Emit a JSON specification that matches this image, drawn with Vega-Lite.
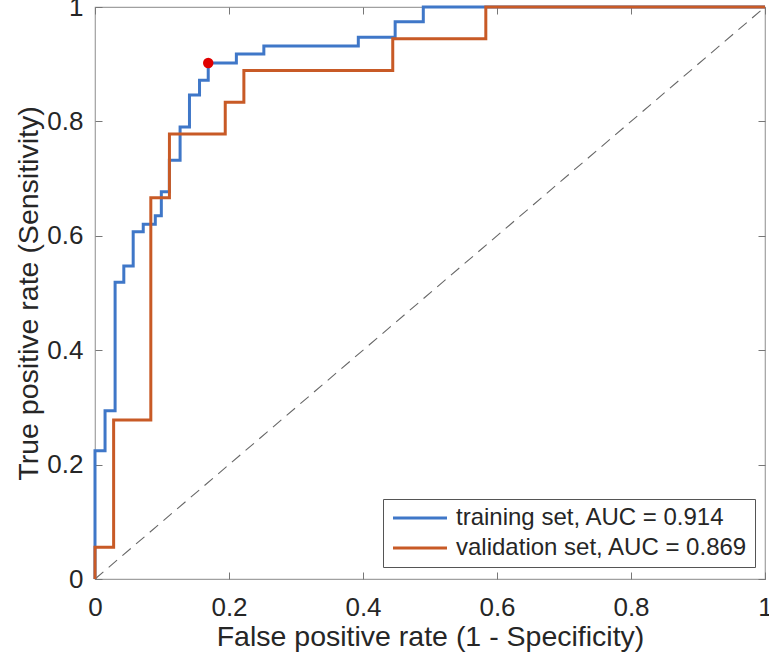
{
  "$schema": "https://vega.github.io/schema/vega-lite/v6.json",
  "width": 670,
  "height": 572,
  "autosize": {"type": "none"},
  "padding": {"left": 95, "top": 7, "right": 4, "bottom": 81},
  "background": "white",
  "config": {
    "font": "Liberation Sans",
    "view": {"stroke": "#a0a0a0", "strokeWidth": 1.2},
    "axis": {
      "domain": false,
      "grid": false,
      "tickColor": "#777777",
      "tickSize": -7,
      "tickWidth": 1,
      "labelFontSize": 26,
      "labelColor": "#262626",
      "titleFontSize": 28.5,
      "titleFontWeight": "normal",
      "titleColor": "#262626",
      "labelFont": "Liberation Sans",
      "titleFont": "Liberation Sans"
    }
  },
  "datasets": {
    "roc": [
      {"series": "training set, AUC = 0.914", "fpr": 0, "tpr": 0},
      {"series": "training set, AUC = 0.914", "fpr": 0.015, "tpr": 0.224},
      {"series": "training set, AUC = 0.914", "fpr": 0.03, "tpr": 0.294},
      {"series": "training set, AUC = 0.914", "fpr": 0.043, "tpr": 0.519},
      {"series": "training set, AUC = 0.914", "fpr": 0.057, "tpr": 0.547},
      {"series": "training set, AUC = 0.914", "fpr": 0.072, "tpr": 0.607},
      {"series": "training set, AUC = 0.914", "fpr": 0.09, "tpr": 0.62},
      {"series": "training set, AUC = 0.914", "fpr": 0.099, "tpr": 0.635},
      {"series": "training set, AUC = 0.914", "fpr": 0.111, "tpr": 0.677},
      {"series": "training set, AUC = 0.914", "fpr": 0.127, "tpr": 0.732},
      {"series": "training set, AUC = 0.914", "fpr": 0.141, "tpr": 0.79},
      {"series": "training set, AUC = 0.914", "fpr": 0.156, "tpr": 0.846},
      {"series": "training set, AUC = 0.914", "fpr": 0.169, "tpr": 0.872},
      {"series": "training set, AUC = 0.914", "fpr": 0.211, "tpr": 0.902},
      {"series": "training set, AUC = 0.914", "fpr": 0.252, "tpr": 0.918},
      {"series": "training set, AUC = 0.914", "fpr": 0.393, "tpr": 0.932},
      {"series": "training set, AUC = 0.914", "fpr": 0.448, "tpr": 0.947},
      {"series": "training set, AUC = 0.914", "fpr": 0.49, "tpr": 0.974},
      {"series": "training set, AUC = 0.914", "fpr": 1, "tpr": 1},
      {"series": "validation set, AUC = 0.869", "fpr": 0, "tpr": 0},
      {"series": "validation set, AUC = 0.869", "fpr": 0.0278, "tpr": 0.0556},
      {"series": "validation set, AUC = 0.869", "fpr": 0.0833, "tpr": 0.2778},
      {"series": "validation set, AUC = 0.869", "fpr": 0.1111, "tpr": 0.6667},
      {"series": "validation set, AUC = 0.869", "fpr": 0.1944, "tpr": 0.7778},
      {"series": "validation set, AUC = 0.869", "fpr": 0.2222, "tpr": 0.8333},
      {"series": "validation set, AUC = 0.869", "fpr": 0.4444, "tpr": 0.8889},
      {"series": "validation set, AUC = 0.869", "fpr": 0.5833, "tpr": 0.9444},
      {"series": "validation set, AUC = 0.869", "fpr": 1, "tpr": 1}
    ],
    "diag": [{"x0": 0, "y0": 0, "x1": 1, "y1": 1}],
    "cut": [{"fpr": 0.169, "tpr": 0.902}]
  },
  "resolve": {"axis": {"x": "independent", "y": "independent"}},
  "layer": [
    {
      "data": {"name": "diag"},
      "mark": {"type": "rule", "color": "#666666", "strokeWidth": 1.1, "strokeDash": [11, 7]},
      "encoding": {
        "x": {"field": "x0", "type": "quantitative", "scale": {"domain": [0, 1], "nice": false},
          "axis": {"values": [0, 0.2, 0.4, 0.6, 0.8, 1], "format": "~g", "labelPadding": 22, "title": "False positive rate (1 - Specificity)", "titlePadding": 2, "labelFlush": false}},
        "y": {"field": "y0", "type": "quantitative", "scale": {"domain": [0, 1], "nice": false},
          "axis": {"values": [0, 0.2, 0.4, 0.6, 0.8, 1], "format": "~g", "labelPadding": 19, "title": "True positive rate (Sensitivity)", "titlePadding": 3, "labelFlush": false}},
        "x2": {"field": "x1"},
        "y2": {"field": "y1"}
      }
    },
    {
      "data": {"name": "roc"},
      "mark": {"type": "line", "interpolate": "step-before", "strokeWidth": 3},
      "encoding": {
        "x": {"field": "fpr", "type": "quantitative",
          "axis": {"orient": "top", "values": [0, 0.2, 0.4, 0.6, 0.8, 1], "labels": false, "title": null}},
        "y": {"field": "tpr", "type": "quantitative",
          "axis": {"orient": "right", "values": [0, 0.2, 0.4, 0.6, 0.8, 1], "labels": false, "title": null}},
        "color": {
          "field": "series", "type": "nominal",
          "scale": {"domain": ["training set, AUC = 0.914", "validation set, AUC = 0.869"], "range": ["#3f77c8", "#c85a26"]},
          "legend": {
            "title": null,
            "orient": "none",
            "legendX": 288,
            "legendY": 492,
            "strokeColor": "#555555",
            "fillColor": "white",
            "padding": 7,
            "symbolType": "M-1,0L5,0",
            "symbolSize": 324,
            "symbolStrokeWidth": 3,
            "labelFontSize": 24,
            "labelColor": "#262626",
            "labelFont": "Liberation Sans",
            "rowPadding": 6,
            "labelOffset": 42,
            "labelLimit": 400
          }
        },
        "order": {"field": "fpr"}
      }
    },
    {
      "data": {"name": "cut"},
      "mark": {"type": "point", "filled": true, "color": "#e00000", "size": 110, "opacity": 1},
      "encoding": {
        "x": {"field": "fpr", "type": "quantitative", "axis": null},
        "y": {"field": "tpr", "type": "quantitative", "axis": null}
      }
    }
  ]
}
